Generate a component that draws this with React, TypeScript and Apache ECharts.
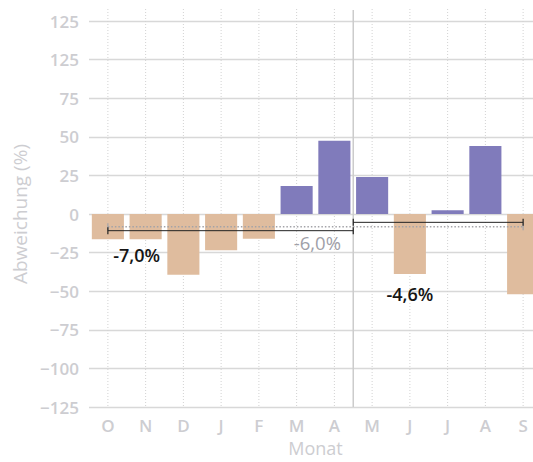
import React, { useEffect, useRef } from "react";
import * as echarts from "echarts";

const months = ["O", "N", "D", "J", "F", "M", "A", "M", "J", "J", "A", "S"];
const deviation = [-16.4, -16.4, -39.3, -23.4, -16.0, 18.2, 47.4, 24.0, -38.8, 2.4, 44.0, -52.0];
const yTickLabels = ["\u2212125", "\u2212100", "\u221275", "\u221250", "\u221225", "0", "25", "50", "75", "125", "125"];

// mean segments: start index, end index (category units), value, style
const segStart = [0, 0, 6.5];
const segEnd = [11, 6.5, 11];
const segValue = [-8.2, -10.8, -5.4];
const segColor = ["#a3a3a8", "#222222", "#222222"];
const segDotted = [true, false, false];

const annText = ["-7,0%", "-6,0%", "-4,6%"];
const annX = [0.76, 5.55, 8.0];
const annY = [-26.6, -18.6, -52.1];
const annColor = ["#151515", "#a09fa8", "#151515"];
const annWeight = [600, 400, 600];
const annSize = [18, 18.5, 18];

const dividerAt = 6.5;

const FONT = "'Open Sans', 'Noto Sans', sans-serif";
const AXIS_GREY = "#cdcdd1";

export default function App() {
  const ref = useRef<HTMLDivElement>(null);
  useEffect(() => {
    if (!ref.current) return;
    const chart = echarts.init(ref.current, undefined, { renderer: "svg" });
    const xAt = (api: any, f: number, v: number) => {
      const p0 = api.coord([0, v]);
      const p1 = api.coord([1, v]);
      return [p0[0] + (p1[0] - p0[0]) * f, p0[1]];
    };
    chart.setOption({
      animation: false,
      grid: { left: 89, top: 21, width: 453, bottom: 55, containLabel: false },
      xAxis: {
        type: "category",
        data: months,
        name: "Monat",
        nameLocation: "middle",
        nameGap: 28,
        nameTextStyle: { color: AXIS_GREY, fontSize: 18, fontWeight: 400, fontFamily: FONT },
        axisLine: { show: false, lineStyle: { color: AXIS_GREY } },
        axisTick: { show: false },
        splitLine: { show: false },
        axisLabel: { color: AXIS_GREY, fontSize: 17, fontWeight: 600, fontFamily: FONT, margin: 10 },
      },
      yAxis: {
        type: "value",
        min: -125,
        max: 125,
        interval: 25,
        name: "Abweichung (%)",
        nameLocation: "middle",
        nameGap: 52,
        nameTextStyle: { color: AXIS_GREY, fontSize: 19, fontWeight: 400, fontFamily: FONT },
        axisLine: { show: false, lineStyle: { color: AXIS_GREY } },
        axisTick: { show: false },
        axisLabel: {
          color: AXIS_GREY,
          fontSize: 17,
          fontWeight: 600,
          fontFamily: FONT,
          margin: 10,
          formatter: (v: number) => yTickLabels[Math.round((v + 125) / 25)],
        },
        splitLine: { lineStyle: { color: "#d8d8d8", width: 1.3 } },
      },
      series: [
        {
          type: "custom",
          z: 1,
          clip: false,
          silent: true,
          data: months.map((_, i) => [i, 0]),
          renderItem: (params: any, api: any) => {
            const i = api.value(0);
            const top = api.coord([i, 125]);
            const bot = api.coord([i, -125]);
            return {
              type: "line",
              shape: { x1: top[0], y1: top[1] - 12, x2: bot[0], y2: bot[1] },
              style: { stroke: "#d2d2d2", lineWidth: 1, lineDash: [1, 2] },
            };
          },
        },
        {
          type: "bar",
          z: 2,
          barCategoryGap: "15%",
          data: deviation.map((v) => ({
            value: v,
            itemStyle: { color: v >= 0 ? "#807bbb" : "#dfbc9e" },
          })),
        },
        {
          type: "custom",
          z: 3,
          clip: false,
          silent: true,
          data: [[0, 0]],
          renderItem: (params: any, api: any) => {
            const children: any[] = [];
            const dTop = xAt(api, dividerAt, 125);
            const dBot = xAt(api, dividerAt, -125);
            children.push({
              type: "line",
              shape: { x1: dTop[0], y1: dTop[1] - 11, x2: dBot[0], y2: dBot[1] },
              style: { stroke: "#cccccc", lineWidth: 1.5 },
            });
            segValue.forEach((v, k) => {
              const a = xAt(api, segStart[k], v);
              const b = xAt(api, segEnd[k], v);
              children.push({
                type: "line",
                shape: { x1: a[0], y1: a[1], x2: b[0], y2: b[1] },
                style: {
                  stroke: segColor[k],
                  lineWidth: segDotted[k] ? 1.5 : 1,
                  lineDash: segDotted[k] ? [1.5, 2] : null,
                },
              });
              [a, b].forEach((p) => {
                children.push({
                  type: "line",
                  shape: { x1: p[0], y1: p[1] - 3.5, x2: p[0], y2: p[1] + 3.5 },
                  style: { stroke: segColor[k], lineWidth: 1.2 },
                });
              });
            });
            annText.forEach((t, k) => {
              const p = xAt(api, annX[k], annY[k]);
              children.push({
                type: "text",
                x: p[0],
                y: p[1],
                style: {
                  text: t,
                  fill: annColor[k],
                  fontSize: annSize[k],
                  fontWeight: annWeight[k],
                  fontFamily: FONT,
                  align: "center",
                  verticalAlign: "middle",
                },
              });
            });
            return { type: "group", children };
          },
        },
      ],
    });
    return () => chart.dispose();
  }, []);
  return (
    <div style={{ position: "absolute", left: 0, top: 0, width: 533, height: 462, overflow: "hidden" }}>
      <div ref={ref} style={{ width: 560, height: 462 }} />
    </div>
  );
}
